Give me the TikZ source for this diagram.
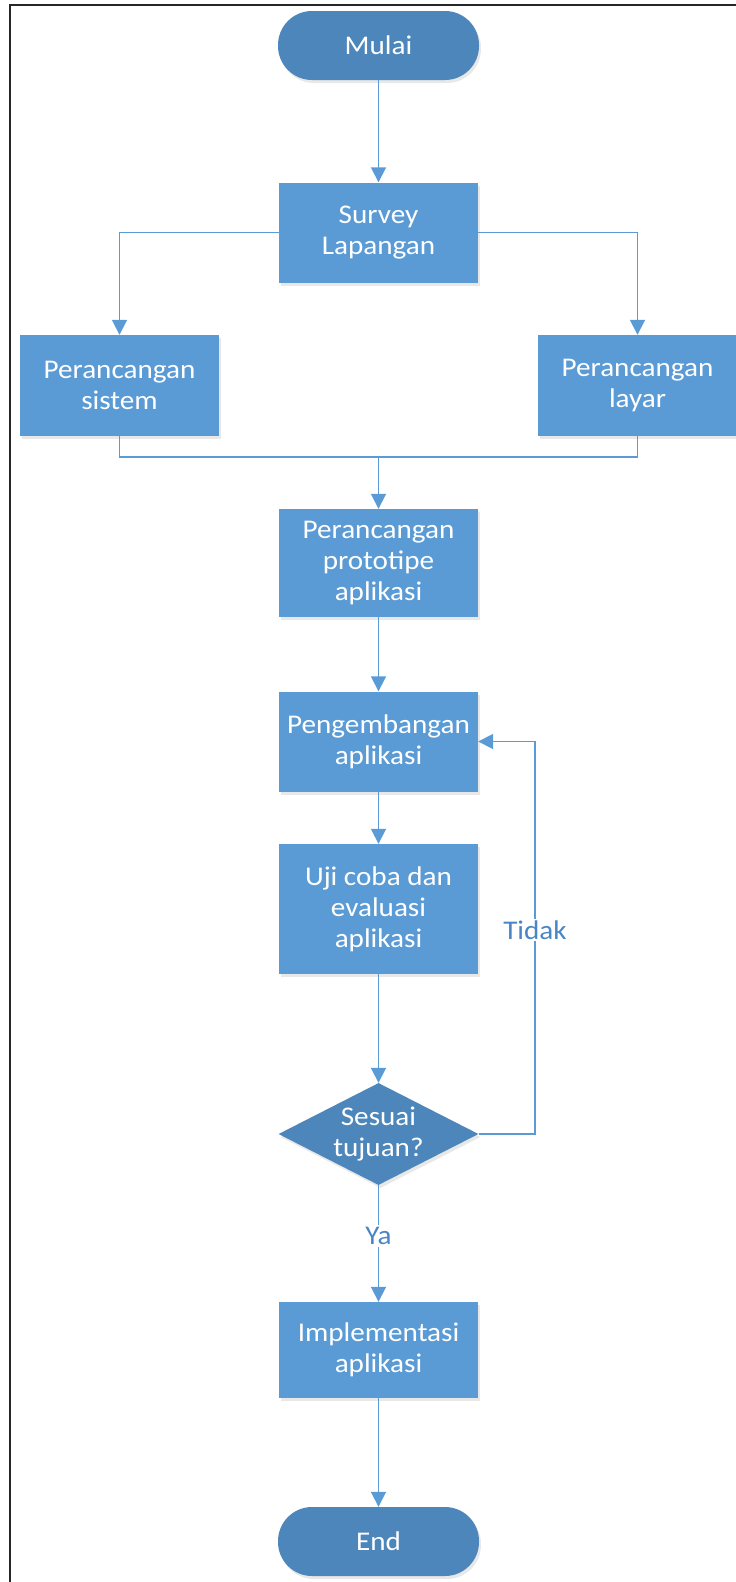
\documentclass[tikz,border=0pt]{standalone}
\usepackage{fontspec}
\setmainfont{Carlito}[FakeStretch=1.08]
\usetikzlibrary{shapes.geometric,arrows.meta,shadows}
\definecolor{boxblue}{HTML}{5B9BD5}
\definecolor{termblue}{HTML}{4C86BA}
\definecolor{lineblue}{HTML}{5B9BD5}
\definecolor{lblblue}{HTML}{4A86C5}
\tikzset{
  x=1pt,y=-1pt,
  every node/.style={font=\fontsize{27}{31}\selectfont},
  shad/.style={drop shadow={opacity=0.18,shadow xshift=2pt,shadow yshift=-3pt}},
  procbox/.style={rectangle,fill=boxblue,text=white,align=center,minimum width=199pt,minimum height=100pt,inner sep=0pt,shad},
  termbox/.style={rectangle,rounded corners=34pt,fill=termblue,text=white,minimum width=201pt,minimum height=69pt,inner sep=0pt,shad},
  decbox/.style={diamond,fill=termblue,minimum width=200pt,minimum height=102pt,inner sep=0pt,shad},
  conn/.style={draw=lineblue,line width=1.8pt},
  arr/.style={conn,-{Triangle[width=15pt,length=15pt]}},
  lbl/.style={fill=white,text=lblblue,inner sep=2pt}
}
\begin{document}
\begin{tikzpicture}
\useasboundingbox (0,0) rectangle (736,1582);
\draw[line width=2pt,black!85] (736,5) -- (10,5) -- (10,1582);

\node[termbox] (mulai) at (378.5,45.5) {Mulai};
\node[procbox] (survey) at (378.5,232.5) {Survey\\Lapangan};
\node[procbox,minimum height=101pt] (sistem) at (119.5,385.5) {Perancangan\\sistem};
\node[procbox,minimum height=101pt] (layar) at (637.5,385.5) {Perancangan\\layar};
\node[procbox,minimum height=108pt] (proto) at (378.5,563) {Perancangan\\prototipe\\aplikasi};
\node[procbox] (peng) at (378.5,741.5) {Pengembangan\\aplikasi};
\node[procbox,minimum height=130pt] (uji) at (378.5,909) {Uji coba dan\\evaluasi\\aplikasi};
\node[decbox,label={[text=white,align=center,font=\fontsize{27}{31}\selectfont]center:Sesuai\\tujuan?}] (dec) at (378.5,1134) {};
\node[procbox,minimum height=96pt] (impl) at (378.5,1350) {Implementasi\\aplikasi};
\node[termbox] (end) at (378.5,1541.5) {End};

\coordinate (join) at (378.5,457);
\coordinate (loop) at (535,741.5);

\draw[arr] (mulai.south) -- (survey.north);
\draw[arr] (survey.west) -| (sistem.north);
\draw[arr] (survey.east) -| (layar.north);
\draw[conn] (sistem.south) |- (join) -| (layar.south);
\draw[arr] (join) -- (proto.north);
\draw[arr] (proto.south) -- (peng.north);
\draw[arr] (peng.south) -- (uji.north);
\draw[arr] (uji.south) -- (dec.north);
\draw[arr] (dec.east) -| (loop) -- (peng.east);
\node[lbl] (tidak) at (535,930) {Tidak};
\draw[arr] (dec.south) -- (impl.north);
\node[lbl] (ya) at (378.5,1236) {Ya};
\draw[arr] (impl.south) -- (end.north);
\end{tikzpicture}
\end{document}
